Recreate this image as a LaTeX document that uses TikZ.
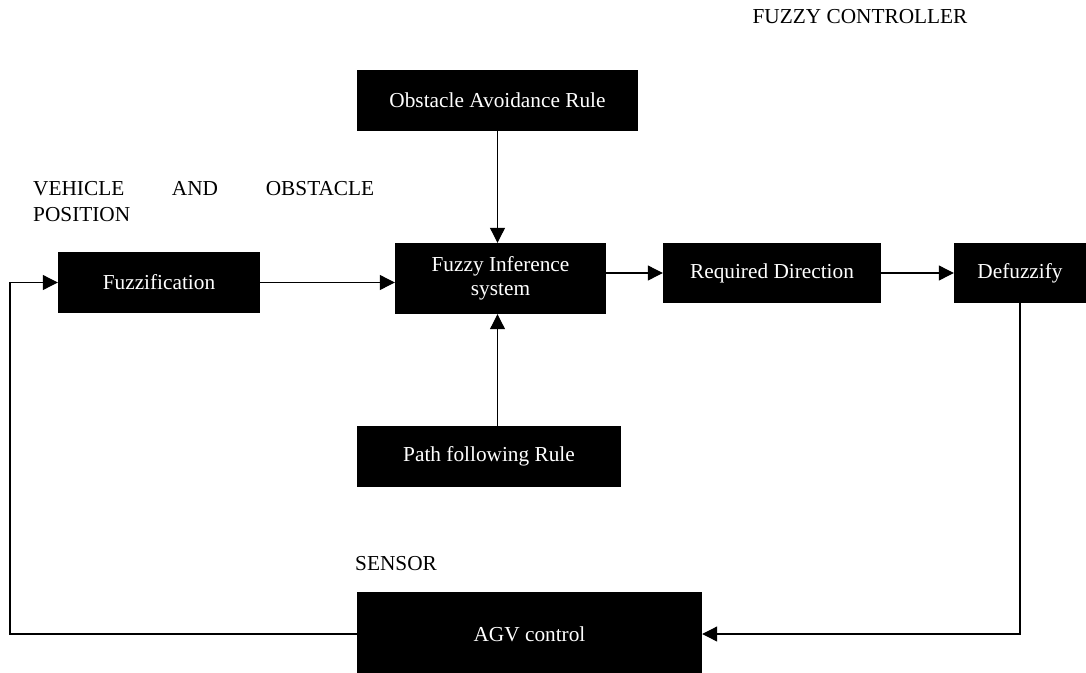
\documentclass[tikz,border=0pt]{standalone}
\usepackage{fontspec}
\setmainfont{Liberation Serif}
\usetikzlibrary{arrows.meta,calc}
\begin{document}
\begin{tikzpicture}[x=1pt,y=-1pt,
  blk/.style={fill=black,text=white,inner sep=0pt,align=center,font=\fontsize{21.3}{24}\selectfont},
  lbl/.style={inner sep=0pt,font=\fontsize{21.3}{26}\selectfont},
  conn/.style={line width=1.1pt,-{Triangle[length=15pt,width=15pt]}}]
\useasboundingbox (0,0) rectangle (1086,672);
% labels
\node[lbl] (title) at (860,17) {FUZZY CONTROLLER};
\node[lbl,anchor=north west,text width=341pt,align=justify] (veh) at (33,181) {\hyphenpenalty=10000\emergencystretch=200pt VEHICLE AND OBSTACLE \mbox{POSITION}};
\node[lbl,anchor=west] (sensor) at (355,564) {SENSOR};
% blocks
\node[blk,minimum width=281pt,minimum height=61pt] (obst) at (497.5,100.5) {Obstacle Avoidance Rule};
\node[blk,minimum width=202pt,minimum height=61pt] (fuzz) at (159,282.5) {Fuzzification};
\node[blk,minimum width=211pt,minimum height=71pt] (fis) at (500.5,278.5) {Fuzzy Inference\\system};
\node[blk,minimum width=218pt,minimum height=60pt] (rd) at (772,273) {Required Direction};
\node[blk,minimum width=132pt,minimum height=60pt] (defuz) at (1020,273) {Defuzzify};
\node[blk,minimum width=264pt,minimum height=61pt] (path) at (489,456.5) {Path following Rule};
\node[blk,minimum width=345pt,minimum height=84pt] (agv) at (529.5,634) {AGV control};
\coordinate (lft) at (10,0);
% connectors
\draw[conn] (obst.south) -- (obst.south |- fis.north);
\draw[conn] (obst.south |- path.north) -- (obst.south |- fis.south);
\draw[conn] (fuzz.east) -- (fuzz.east -| fis.west);
\draw[conn] (rd.west -| fis.east) -- (rd.west);
\draw[conn] (rd.east) -- (defuz.west);
\draw[conn] (defuz.south) |- (agv.east);
\draw[conn] (agv.west) -- (agv.west -| lft) -- (fuzz.west -| lft) -- (fuzz.west);
\end{tikzpicture}
\end{document}
